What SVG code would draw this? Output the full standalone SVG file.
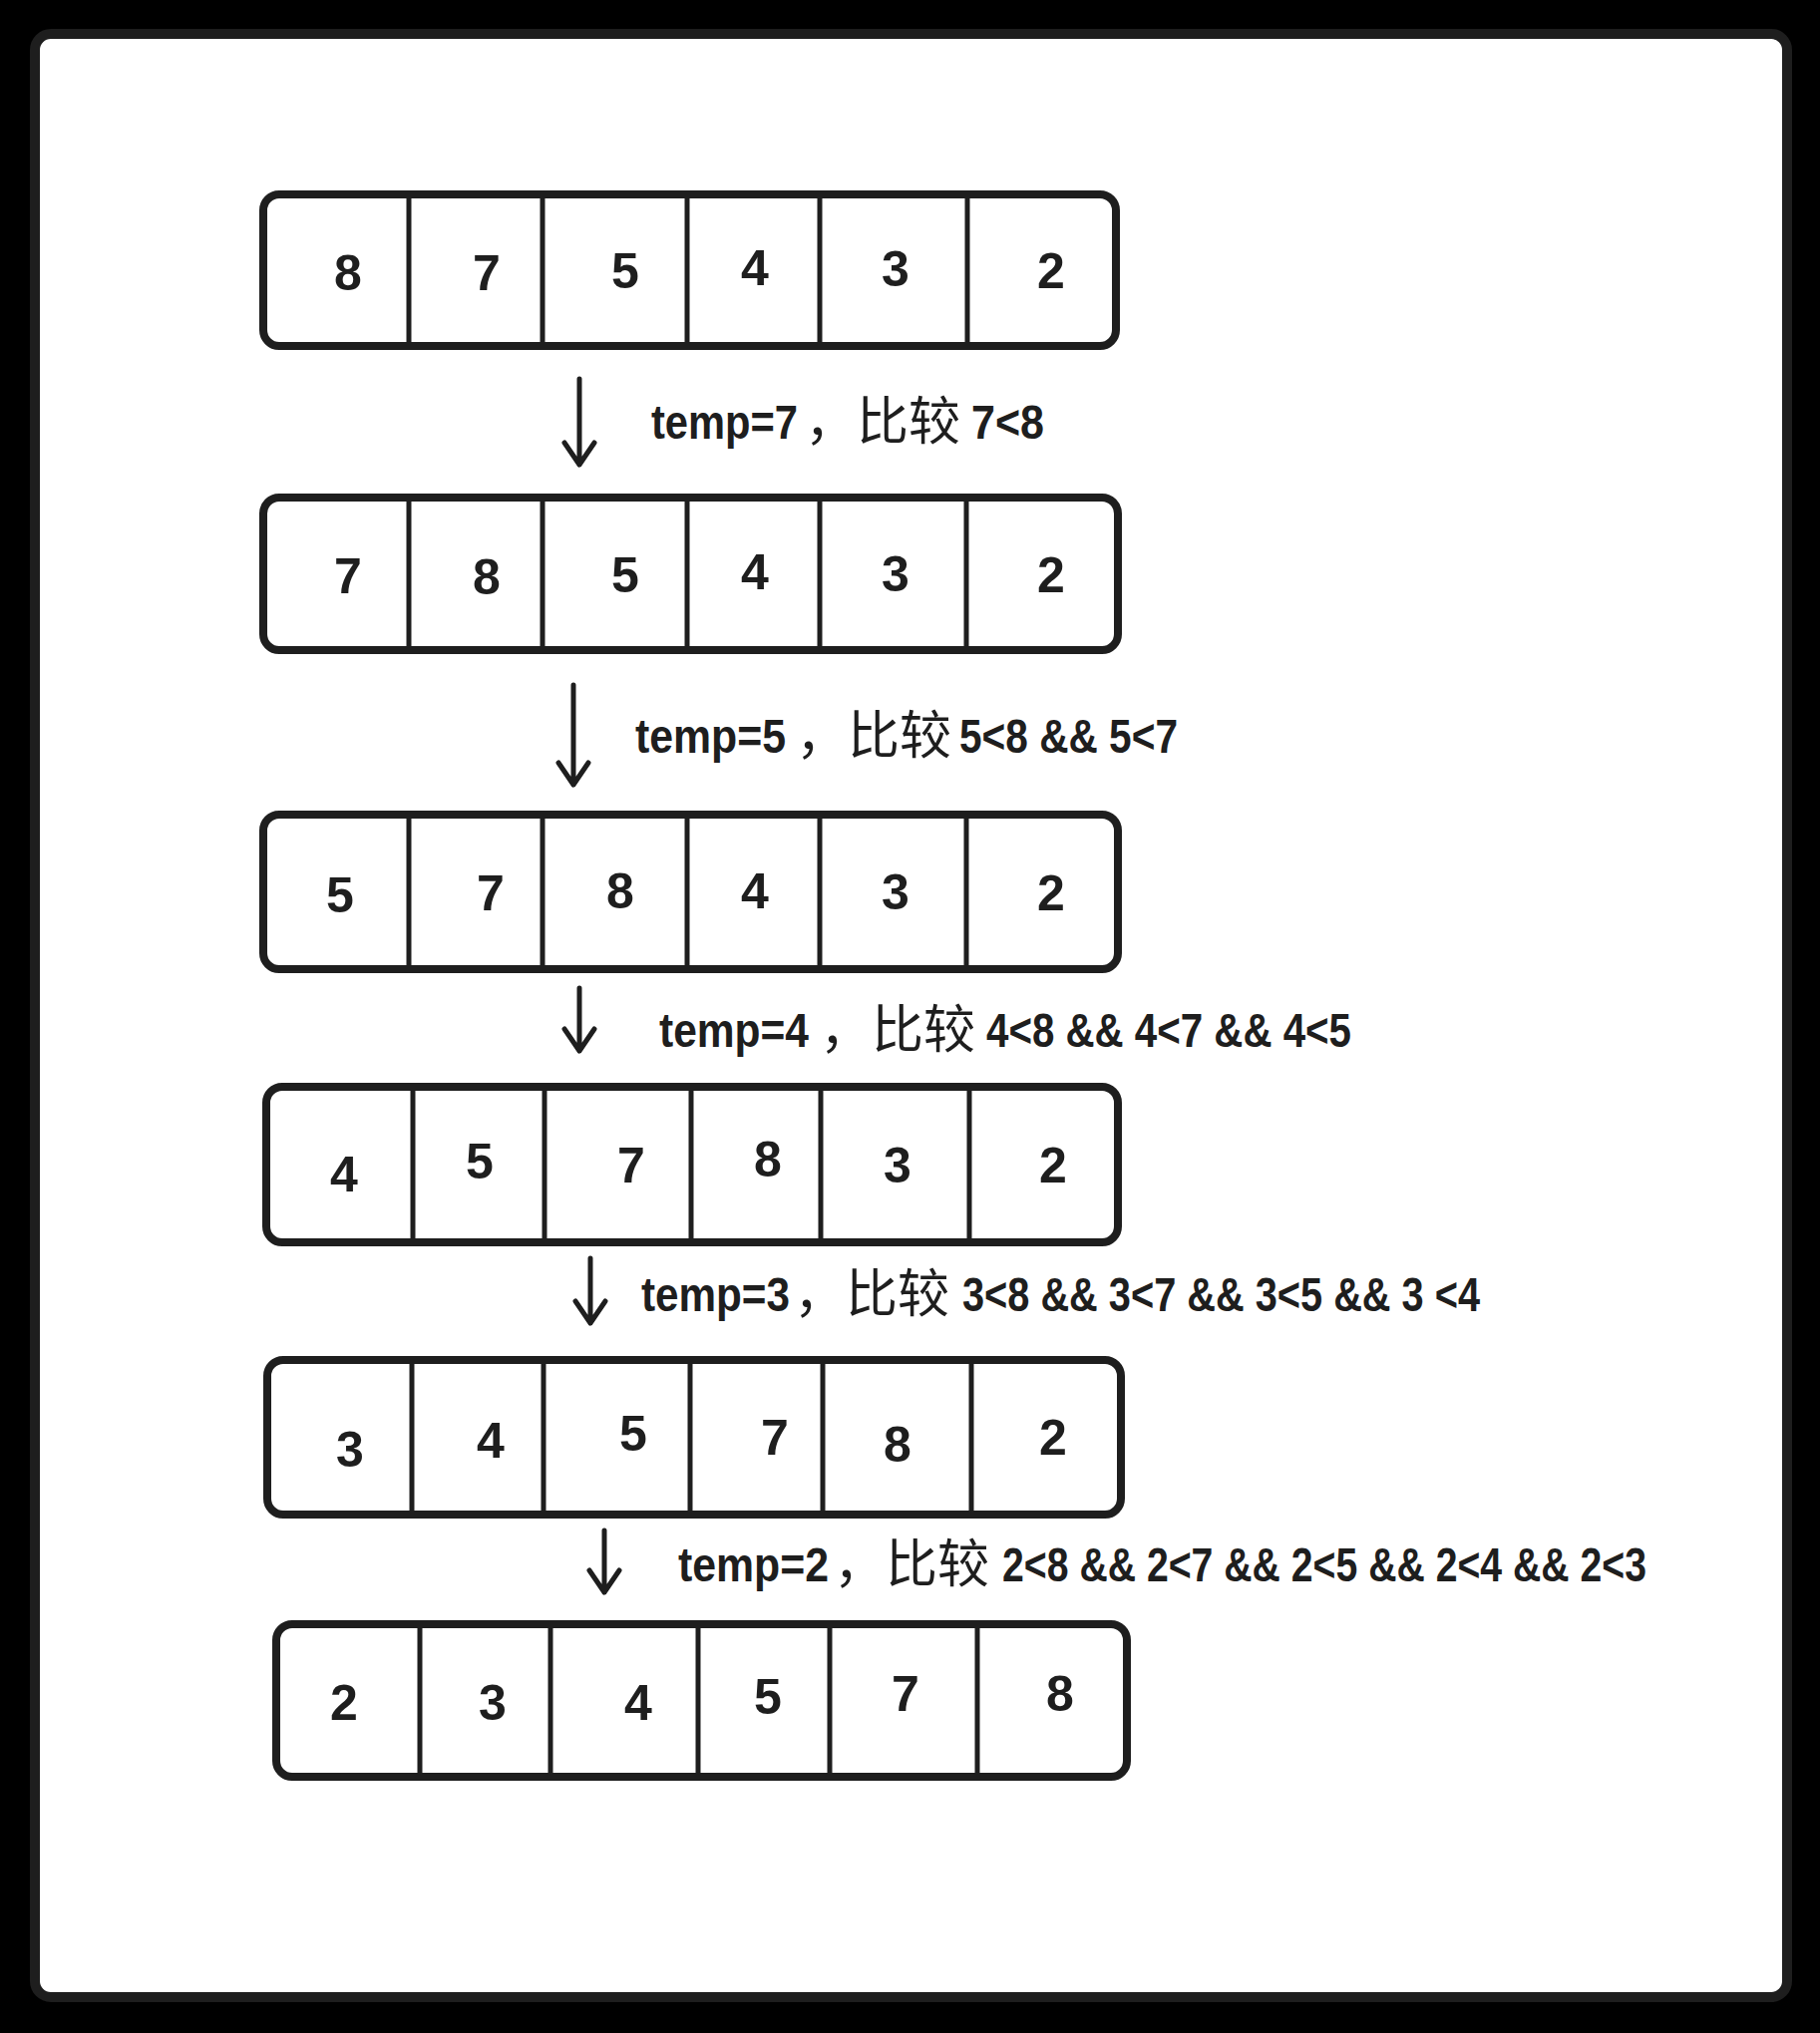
<svg xmlns="http://www.w3.org/2000/svg" width="1825" height="2039" viewBox="0 0 1825 2039">
<style>
.card{fill:#ffffff;stroke:#1e1e1e;stroke-width:10}
.box{fill:#ffffff;stroke:#1e1e1e;stroke-width:8}
.div{stroke:#1e1e1e;stroke-width:5;fill:none}
.num{font-family:"Liberation Sans Narrow","Liberation Sans","Noto Sans",sans-serif;font-weight:700;font-size:50px;fill:#1e1e1e;text-anchor:middle}
.lat{font-family:"Liberation Sans Narrow","Liberation Sans",sans-serif;font-weight:700;font-size:48px;fill:#1e1e1e}
.cjk{font-family:"Noto Sans CJK SC",sans-serif;font-weight:400;font-size:52px;fill:#1e1e1e}
.arr{stroke:#1e1e1e;stroke-width:5;fill:none;stroke-linecap:round;stroke-linejoin:round}
</style>
<rect x="0" y="0" width="1825" height="2039" fill="#000000"/>
<rect class="card" x="35" y="34" width="1757" height="1969" rx="16"/>

<g id="row1">
<rect class="box" x="264" y="195" width="855" height="152" rx="16"/>
<path class="div" d="M410 195V347M544 195V347M689 195V347M822 195V347M970 195V347"/>
<text class="num" x="349" y="291">8</text><text class="num" x="488" y="291">7</text><text class="num" x="627" y="289">5</text><text class="num" x="757" y="286">4</text><text class="num" x="898" y="287">3</text><text class="num" x="1054" y="289">2</text>
</g>
<g id="row2">
<rect class="box" x="264" y="499" width="857" height="153" rx="16"/>
<path class="div" d="M410 499V652M544 499V652M689 499V652M822 499V652M969 499V652"/>
<text class="num" x="349" y="595">7</text><text class="num" x="488" y="596">8</text><text class="num" x="627" y="594">5</text><text class="num" x="757" y="591">4</text><text class="num" x="898" y="593">3</text><text class="num" x="1054" y="594">2</text>
</g>
<g id="row3">
<rect class="box" x="264" y="817" width="857" height="155" rx="16"/>
<path class="div" d="M410 817V972M544 817V972M689 817V972M822 817V972M969 817V972"/>
<text class="num" x="341" y="915">5</text><text class="num" x="492" y="913">7</text><text class="num" x="622" y="911">8</text><text class="num" x="757" y="911">4</text><text class="num" x="898" y="912">3</text><text class="num" x="1054" y="913">2</text>
</g>
<g id="row4">
<rect class="box" x="267" y="1090" width="854" height="156" rx="16"/>
<path class="div" d="M414 1090V1246M546 1090V1246M693 1090V1246M823 1090V1246M972 1090V1246"/>
<text class="num" x="345" y="1195">4</text><text class="num" x="481" y="1182">5</text><text class="num" x="633" y="1186">7</text><text class="num" x="770" y="1180">8</text><text class="num" x="900" y="1186">3</text><text class="num" x="1056" y="1186">2</text>
</g>
<g id="row5">
<rect class="box" x="268" y="1364" width="856" height="155" rx="16"/>
<path class="div" d="M413 1364V1519M545 1364V1519M692 1364V1519M825 1364V1519M974 1364V1519"/>
<text class="num" x="351" y="1471">3</text><text class="num" x="492" y="1462">4</text><text class="num" x="635" y="1455">5</text><text class="num" x="777" y="1459">7</text><text class="num" x="900" y="1466">8</text><text class="num" x="1056" y="1459">2</text>
</g>
<g id="row6">
<rect class="box" x="277" y="1629" width="853" height="153" rx="16"/>
<path class="div" d="M421 1629V1782M552 1629V1782M700 1629V1782M832 1629V1782M980 1629V1782"/>
<text class="num" x="345" y="1725">2</text><text class="num" x="494" y="1725">3</text><text class="num" x="640" y="1725">4</text><text class="num" x="770" y="1719">5</text><text class="num" x="908" y="1716">7</text><text class="num" x="1063" y="1716">8</text>
</g>

<g id="connectors">
<path class="arr" d="M581 380V466M566 444L581 466L596 444"/>
<path class="arr" d="M575 687V787M560 765L575 787L590 765"/>
<path class="arr" d="M581 991V1054M566 1032L581 1054L596 1032"/>
<path class="arr" d="M592 1262V1327M577 1305L592 1327L607 1305"/>
<path class="arr" d="M606 1535V1597M591 1575L606 1597L621 1575"/>
</g>

<g id="label1">
<text class="lat" x="653" y="440" textLength="147" lengthAdjust="spacingAndGlyphs">temp=7</text>
<text class="cjk" x="807" y="441">，比较</text>
<text class="lat" x="974" y="440" textLength="73" lengthAdjust="spacingAndGlyphs">7&lt;8</text>
</g>
<g id="label2">
<text class="lat" x="637" y="755" textLength="151" lengthAdjust="spacingAndGlyphs">temp=5</text>
<text class="cjk" x="798" y="756">，比较</text>
<text class="lat" x="962" y="755" textLength="219" lengthAdjust="spacingAndGlyphs">5&lt;8 &amp;&amp; 5&lt;7</text>
</g>
<g id="label3">
<text class="lat" x="661" y="1050" textLength="150" lengthAdjust="spacingAndGlyphs">temp=4</text>
<text class="cjk" x="822" y="1051">，比较</text>
<text class="lat" x="989" y="1050" textLength="366" lengthAdjust="spacingAndGlyphs">4&lt;8 &amp;&amp; 4&lt;7 &amp;&amp; 4&lt;5</text>
</g>
<g id="label4">
<text class="lat" x="643" y="1315" textLength="149" lengthAdjust="spacingAndGlyphs">temp=3</text>
<text class="cjk" x="796" y="1316">，比较</text>
<text class="lat" x="965" y="1315" textLength="519" lengthAdjust="spacingAndGlyphs">3&lt;8 &amp;&amp; 3&lt;7 &amp;&amp; 3&lt;5 &amp;&amp; 3 &lt;4</text>
</g>
<g id="label5">
<text class="lat" x="680" y="1586" textLength="151" lengthAdjust="spacingAndGlyphs">temp=2</text>
<text class="cjk" x="836" y="1587">，比较</text>
<text class="lat" x="1005" y="1586" textLength="646" lengthAdjust="spacingAndGlyphs">2&lt;8 &amp;&amp; 2&lt;7 &amp;&amp; 2&lt;5 &amp;&amp; 2&lt;4 &amp;&amp; 2&lt;3</text>
</g>
</svg>
